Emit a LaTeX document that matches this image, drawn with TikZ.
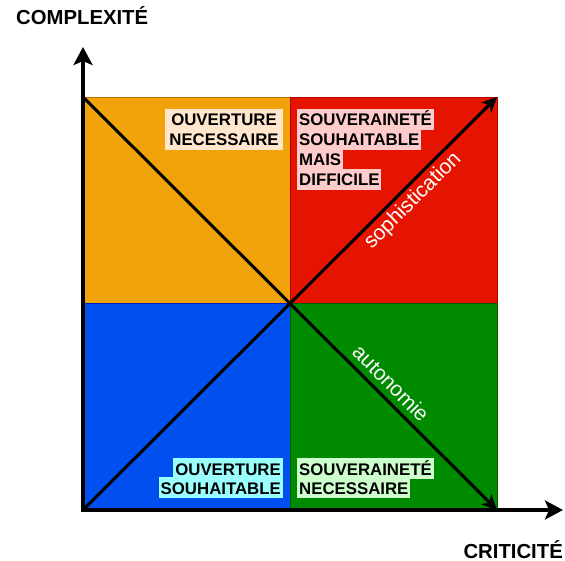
\documentclass[tikz,border=0pt]{standalone}
\usepackage{fontspec}
\setmainfont{Liberation Sans}
\usetikzlibrary{arrows.meta,calc}
\definecolor{orangefill}{HTML}{F0A30A}
\definecolor{orangeline}{HTML}{BD7000}
\definecolor{redfill}{HTML}{E51400}
\definecolor{redline}{HTML}{B20000}
\definecolor{bluefill}{HTML}{0050EF}
\definecolor{blueline}{HTML}{001DBC}
\definecolor{greenfill}{HTML}{008A00}
\definecolor{greenline}{HTML}{005700}
\definecolor{peachbg}{HTML}{FFE6CC}
\definecolor{pinkbg}{HTML}{FFCCCC}
\definecolor{cyanbg}{HTML}{99FFFF}
\definecolor{mintbg}{HTML}{CCFFCC}

\begin{document}
\begin{tikzpicture}[x=1pt,y=-1pt,
  lbl/.style={font=\fontsize{16.8}{20}\selectfont\bfseries, text height=16.5pt,
    text depth=3.5pt, inner xsep=2pt, inner ysep=0.25pt},
  axis/.style={line width=4.5pt, line cap=rect, -{Stealth[length=18pt,width=19pt,inset=4pt]}},
  diag/.style={line width=3pt, -{Stealth[length=15pt,width=14pt,inset=4pt]}},
  tag/.style={text=white, font=\fontsize{21}{25}\selectfont, inner sep=0pt},
  title/.style={font=\fontsize{20.3}{24}\selectfont\bfseries, inner sep=0pt}]
  \useasboundingbox (0,0) rectangle (565,561);
  \coordinate (O) at (83,510);
  \coordinate (C) at (290,303);
  \coordinate (TL) at (83,97);
  \coordinate (TR) at (497,97);
  \coordinate (BR) at (497,510);
  \coordinate (Ytip) at (83,47);
  \coordinate (Xtip) at (563,510);
  % quadrants
  \filldraw[fill=orangefill, draw=orangeline] (TL) rectangle (C);
  \filldraw[fill=redfill, draw=redline] (290,97) rectangle (497,303);
  \filldraw[fill=bluefill, draw=blueline] (83,303) rectangle (290,510);
  \filldraw[fill=greenfill, draw=greenline] (C) rectangle (BR);
  % diagonals
  \draw[diag] (TL) -- (BR);
  \draw[diag] (O) -- (TR);
  \node[tag, rotate=45] (soph) at (413,201) {sophistication};
  \node[tag, rotate=-45] (auto) at (391,383) {autonomie};
  % labels
  \node[lbl, fill=peachbg, minimum width=118pt, anchor=base] (on1) at (224,126) {OUVERTURE};
  \node[lbl, fill=peachbg, minimum width=118pt, anchor=base] (on2) at (224,146) {NECESSAIRE};
  \node[lbl, fill=pinkbg, anchor=base west] (ss1) at (297,126) {SOUVERAINETÉ};
  \node[lbl, fill=pinkbg, anchor=base west] (ss2) at (297,146) {SOUHAITABLE};
  \node[lbl, fill=pinkbg, anchor=base west] (ss3) at (297,166) {MAIS};
  \node[lbl, fill=pinkbg, anchor=base west] (ss4) at (297,186) {DIFFICILE};
  \node[lbl, fill=cyanbg, anchor=base east] (os1) at (283,475) {OUVERTURE};
  \node[lbl, fill=cyanbg, anchor=base east] (os2) at (283,494) {SOUHAITABLE};
  \node[lbl, fill=mintbg, anchor=base west] (sn1) at (297,475) {SOUVERAINETÉ};
  \node[lbl, fill=mintbg, anchor=base west] (sn2) at (297,494) {NECESSAIRE};
  % axes
  \draw[axis] (O) -- (Ytip);
  \draw[axis] (O) -- (Xtip);
  \node[title, anchor=base west] (ytitle) at (16,25) {COMPLEXITÉ};
  \node[title, anchor=base east] (xtitle) at (563,558) {CRITICITÉ};
\end{tikzpicture}
\end{document}
